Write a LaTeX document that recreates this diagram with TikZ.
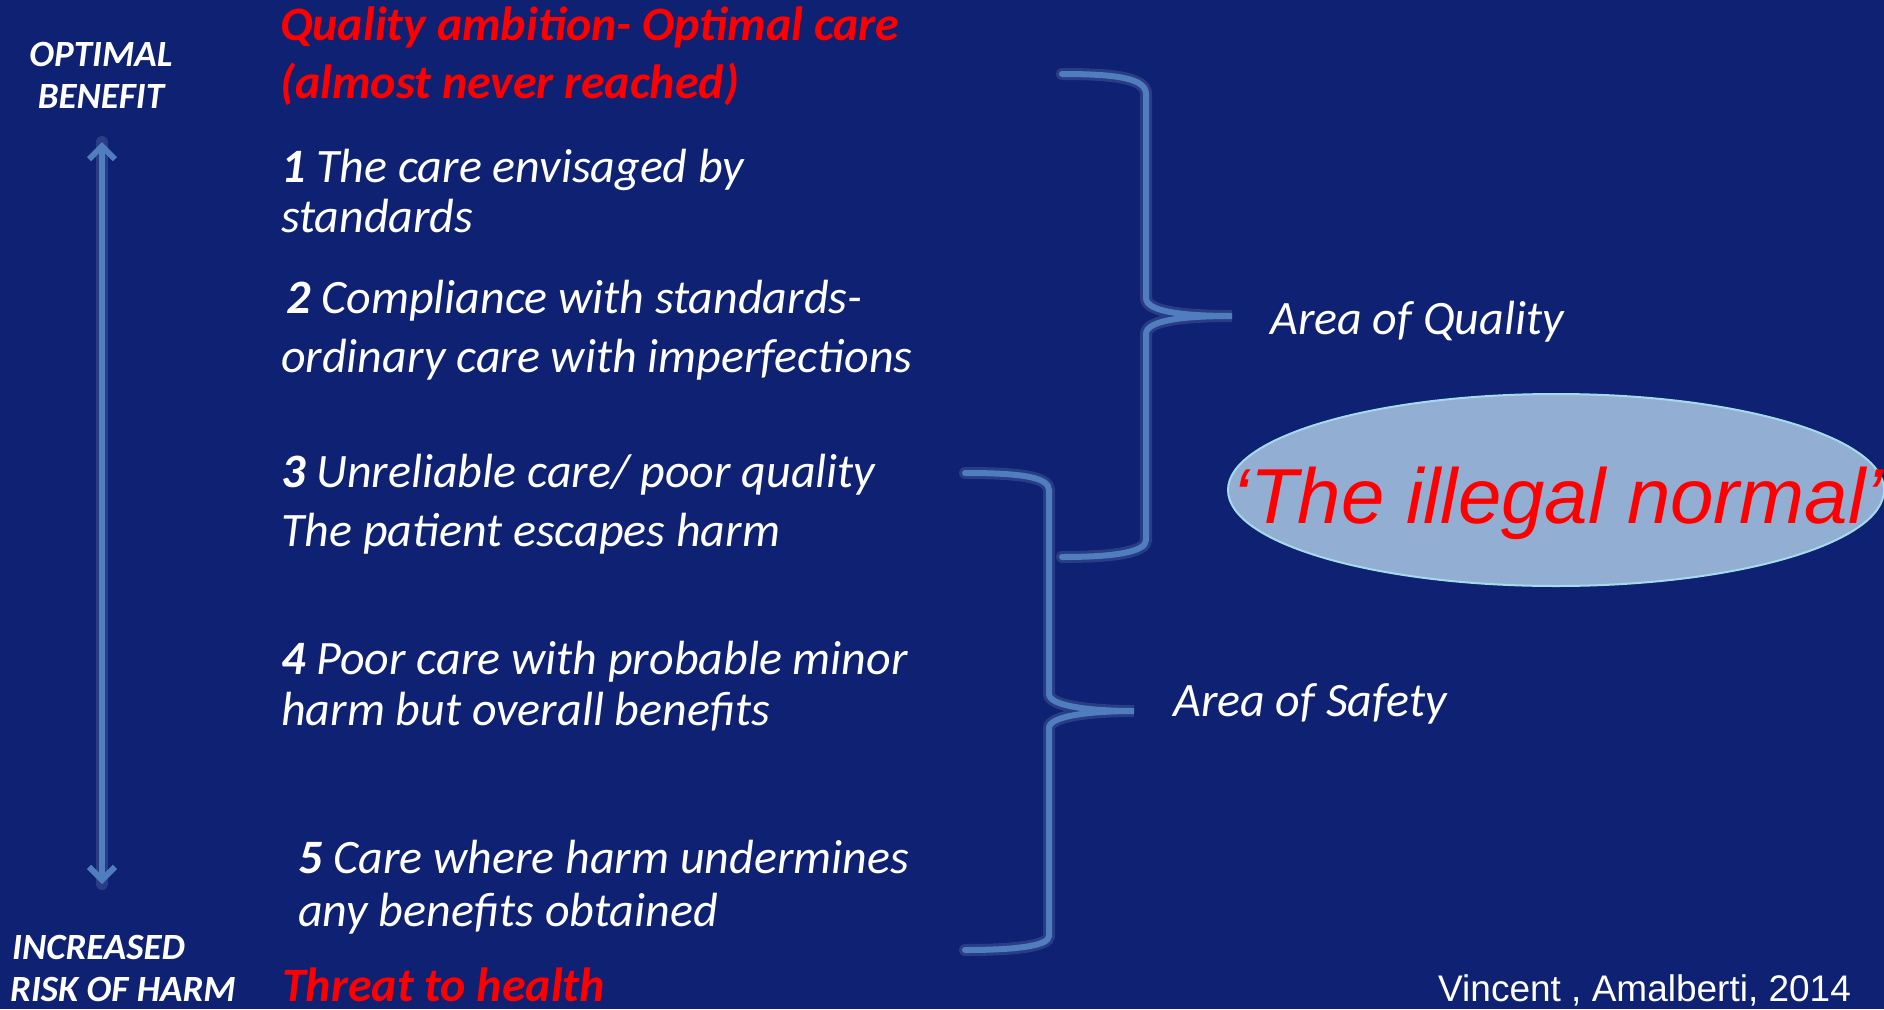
\documentclass[tikz,border=0pt]{standalone}
\usepackage{fontspec}
\setmainfont{Carlito}
\newfontfamily\arialf{Liberation Sans}
\usetikzlibrary{arrows.meta,shapes.geometric}
\definecolor{bg}{RGB}{14,33,115}
\definecolor{lineblue}{RGB}{79,125,190}
\definecolor{ellfill}{RGB}{146,174,211}
\definecolor{elledge}{RGB}{165,218,235}
\definecolor{redtxt}{RGB}{255,0,0}
\tikzset{
  txt/.style={anchor=base west, inner sep=0pt, text=white, font=\fontsize{48}{56}\selectfont\itshape},
  redh/.style={anchor=base west, inner sep=0pt, text=redtxt, font=\fontsize{48}{56}\selectfont\bfseries\itshape},
  side/.style={inner sep=0pt, text=white, font=\fontsize{37}{44}\selectfont\bfseries\itshape},
  bluel/.style={draw=lineblue, line width=6pt, line cap=round},
  glow/.style={draw=lineblue!50!white, line width=12pt, opacity=0.18, line cap=round},
}
\begin{document}
\begin{tikzpicture}[x=1pt,y=-1pt]
\useasboundingbox (0,0) rectangle (1884,1009);
\fill[bg] (0,0) rectangle (1884,1009);

% left axis labels
\node[side, anchor=base] (opt1) at (101,66) {OPTIMAL};
\node[side, anchor=base] (opt2) at (101,108) {BENEFIT};
\node[side, anchor=base west] (inc1) at (12,959) {INCREASED};
\node[side, anchor=base west] (inc2) at (10,1001) {RISK OF HARM};

% double arrow
\coordinate (atop) at (102,142);
\coordinate (abot) at (102,884);
\draw[glow] (atop) -- (abot);
\draw[bluel, {Straight Barb[length=13pt,width=26pt]}-{Straight Barb[length=13pt,width=26pt]}] (atop) -- (abot);

% headings
\node[redh] (hq1) at (280,40) {Quality ambition- Optimal care};
\node[redh] (hq2) at (280,98) {(almost never reached)};
\node[redh] (thr) at (282,1001) {Threat to health};

% items
\node[txt] (t1a) at (281,182) {{\bfseries 1} The care envisaged by};
\node[txt] (t1b) at (281,232) {standards};
\node[txt] (t2a) at (286,313) {{\bfseries 2} Compliance with standards-};
\node[txt] (t2b) at (281,372) {ordinary care with imperfections};
\node[txt] (t3a) at (281,487) {{\bfseries 3} Unreliable care/ poor quality};
\node[txt] (t3b) at (281,546) {The patient escapes harm};
\node[txt] (t4a) at (281,674) {{\bfseries 4} Poor care with probable minor};
\node[txt] (t4b) at (281,725) {harm but overall benefits};
\node[txt] (t5a) at (298,873) {{\bfseries 5} Care where harm undermines};
\node[txt] (t5b) at (298,926) {any benefits obtained};

% braces
\draw[glow] (1062,74) .. controls (1115,74) and (1146,78) .. (1146,94) -- (1146,298)
  .. controls (1146,312) and (1185,316) .. (1232,316)
  .. controls (1185,316) and (1146,320) .. (1146,334) -- (1146,540)
  .. controls (1146,552) and (1115,557) .. (1062,557);
\draw[bluel] (1062,74) .. controls (1115,74) and (1146,78) .. (1146,94) -- (1146,298)
  .. controls (1146,312) and (1185,316) .. (1232,316)
  .. controls (1185,316) and (1146,320) .. (1146,334) -- (1146,540)
  .. controls (1146,552) and (1115,557) .. (1062,557);

\draw[glow] (965,473) .. controls (1015,473) and (1049,476) .. (1049,490) -- (1049,694)
  .. controls (1049,706) and (1090,711) .. (1134,711)
  .. controls (1090,711) and (1049,716) .. (1049,728) -- (1049,936)
  .. controls (1049,946) and (1015,950) .. (965,950);
\draw[bluel] (965,473) .. controls (1015,473) and (1049,476) .. (1049,490) -- (1049,694)
  .. controls (1049,706) and (1090,711) .. (1134,711)
  .. controls (1090,711) and (1049,716) .. (1049,728) -- (1049,936)
  .. controls (1049,946) and (1015,950) .. (965,950);

\node[txt] (aq) at (1270,334) {Area of Quality};
\node[txt] (as) at (1173,716) {Area of Safety};

% ellipse
\node[ellipse, minimum width=656pt, minimum height=192pt, fill=ellfill, draw=elledge, line width=2pt, inner sep=0pt] (ell) at (1556,490) {};
\node[anchor=base, inner sep=0pt, text=redtxt, font=\arialf\itshape\fontsize{78}{90}\selectfont] (ill) at (1558,523) {‘The illegal normal’};

% citation
\node[anchor=base west, inner sep=0pt, text=white, font=\arialf\fontsize{37}{44}\selectfont] (cit) at (1438,1001) {Vincent , Amalberti, 2014};
\end{tikzpicture}
\end{document}
